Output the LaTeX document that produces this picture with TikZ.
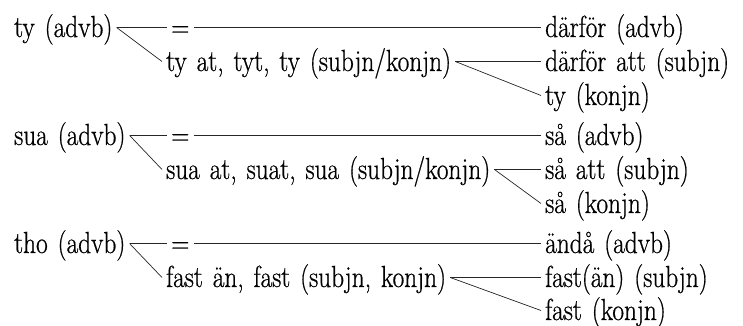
\documentclass[tikz,border=0pt]{standalone}
\usepackage{fontspec}
\newfontface\wordfont{Latin Modern Roman}[FakeStretch=0.83, FakeBold=0.6, WordSpace=1.3]
\begin{document}
\begin{tikzpicture}[x=1pt,y=1pt,
  word/.style={anchor=base west, inner xsep=4pt, inner ysep=0pt,
               text height=19pt, text depth=0pt,
               font=\wordfont\fontsize{30.5}{35}\selectfont},
  link/.style={line width=0.7pt, draw=black!85}]
\useasboundingbox (0,0) rectangle (743,-326);

% --- ty ---
\node[word] (a1) at (10,-37)  {ty (advb)};
\node[word] (e1) at (167,-37) {=};
\node[word] (r1) at (541,-37) {därför (advb)};
\node[word] (m1) at (162,-71) {ty at, tyt, ty (subjn/konjn)};
\node[word] (r2) at (541,-71) {därför att (subjn)};
\node[word] (r3) at (541,-105) {ty (konjn)};

% --- sua ---
\node[word] (a2) at (10,-145)  {sua (advb)};
\node[word] (e2) at (167,-145) {=};
\node[word] (r4) at (541,-145) {så (advb)};
\node[word] (m2) at (162,-179) {sua at, suat, sua (subjn/konjn)};
\node[word] (r5) at (541,-179) {så att (subjn)};
\node[word] (r6) at (541,-213) {så (konjn)};

% --- tho ---
\node[word] (a3) at (10,-253)  {tho (advb)};
\node[word] (e3) at (167,-253) {=};
\node[word] (r7) at (541,-253) {ändå (advb)};
\node[word] (m3) at (162,-287) {fast än, fast (subjn, konjn)};
\node[word] (r8) at (541,-287) {fast(än) (subjn)};
\node[word] (r9) at (541,-320) {fast (konjn)};

% connectors
\foreach \a/\e/\m/\ra/\rb/\rc in {a1/e1/m1/r1/r2/r3, a2/e2/m2/r4/r5/r6, a3/e3/m3/r7/r8/r9}{
  \draw[link] (\a.east) -- (\e.west);
  \draw[link] (\a.east) -- (\m.west);
  \draw[link] (\e.east) -- (\ra.west);
  \draw[link] (\m.east) -- (\rb.west);
  \draw[link] (\m.east) -- (\rc.west);
}
\end{tikzpicture}
\end{document}
